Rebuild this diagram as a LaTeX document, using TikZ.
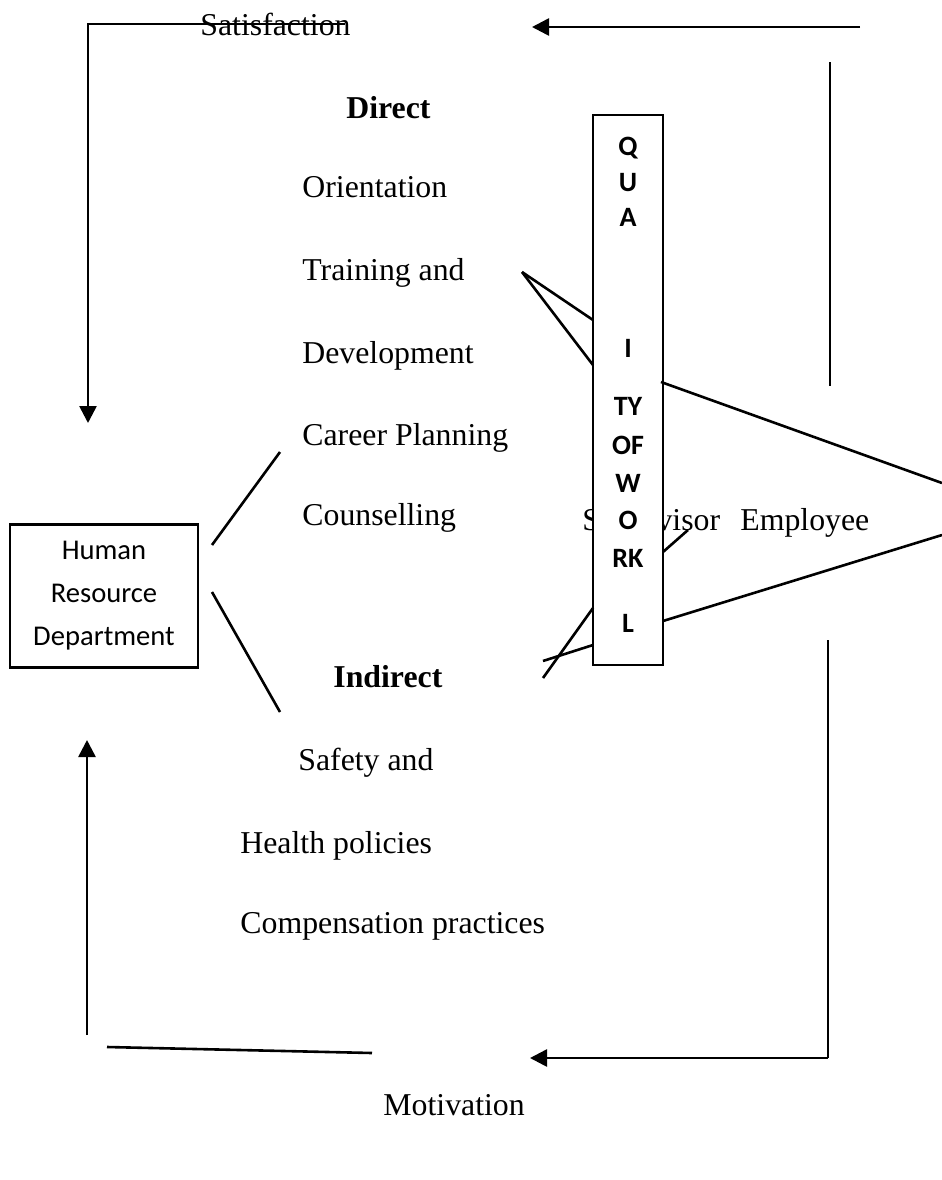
\documentclass[tikz,border=0pt]{standalone}
\usepackage{fontspec}
\setmainfont{Liberation Serif}
\newfontfamily\carlito{Carlito}
\usetikzlibrary{arrows.meta}
\tikzset{
    lbl/.style={anchor=base west, inner sep=0pt, font=\fontsize{15.9}{19}\selectfont},
    letter/.style={anchor=base, inner sep=0pt, font=\carlito\bfseries\fontsize{14}{16}\selectfont},
    flow/.style={line width=1.3pt, -{Triangle[length=8.5pt,width=8.5pt]}},
    plain/.style={line width=1.3pt}
}
\begin{document}
\begin{tikzpicture}[x=0.5pt,y=-0.5pt]
    \useasboundingbox (0,0) rectangle (942,1180);

    % text labels
    \node[lbl] (sat) at (200,35) {Satisfaction};
    \node[lbl, font=\fontsize{15.9}{19}\selectfont\bfseries] (direct) at (346,118) {Direct};
    \node[lbl] (orient) at (302,197) {Orientation};
    \node[lbl] (train) at (302,280) {Training and};
    \node[lbl] (devel) at (302,363) {Development};
    \node[lbl] (career) at (302,445) {Career Planning};
    \node[lbl] (counsel) at (302,525) {Counselling};
    \node[lbl] (superv) at (582,530) {Supervisor};
    \node[lbl] (employee) at (740,530) {Employee};
    \node[lbl, font=\fontsize{15.9}{19}\selectfont\bfseries] (indirect) at (333,687) {Indirect};
    \node[lbl] (safety) at (298,770) {Safety and};
    \node[lbl] (health) at (240,853) {Health policies};
    \node[lbl] (comp) at (240,933) {Compensation practices};
    \node[lbl] (motiv) at (383,1115) {Motivation};

    % boxes
    \node[shape=rectangle,draw=black,line width=1.3pt,minimum width=94pt,minimum height=71.5pt,align=center,
          font=\carlito\fontsize{14.3}{21.5}\selectfont] (hrd) at (104,596) {Human\\Resource\\Department};
    \node[shape=rectangle,draw=black,fill=white,line width=1.3pt,minimum width=35pt,minimum height=275pt] (qual) at (628,390) {};
    \node[letter] (q-1) at (628,155) {Q};
    \node[letter] (q-2) at (628,191) {U};
    \node[letter] (q-3) at (628,226) {A};
    \node[letter] (q-4) at (628,357) {I};
    \node[letter] (q-5) at (628,415) {TY};
    \node[letter] (q-6) at (628,454) {OF};
    \node[letter] (q-7) at (628,492) {W};
    \node[letter] (q-8) at (628,529) {O};
    \node[letter] (q-9) at (628,567) {RK};
    \node[letter] (q-10) at (628,632) {L};

    % free ends
    \coordinate (satR) at (345,24);
    \coordinate (satL) at (88,24);
    \coordinate (satD) at (88,423);
    \coordinate (topR) at (860,27);
    \coordinate (topL) at (532,27);
    \coordinate (rT1) at (830,62);
    \coordinate (rT2) at (830,386);
    \coordinate (rB1) at (828,640);
    \coordinate (rB2) at (828,1058);
    \coordinate (botL) at (530,1058);
    \coordinate (mL1) at (372,1053);
    \coordinate (mL2) at (107,1047);
    \coordinate (upB) at (87,1035);
    \coordinate (upT) at (87,740);
    \coordinate (h1a) at (212,545);
    \coordinate (h1b) at (280,452);
    \coordinate (h2a) at (212,592);
    \coordinate (h2b) at (280,712);
    \coordinate (tr) at (522,272);
    \coordinate (tr1) at (593,320);
    \coordinate (tr2) at (593,365);
    \coordinate (e1a) at (661,382);
    \coordinate (e1b) at (942,483);
    \coordinate (e2a) at (663,621);
    \coordinate (e2b) at (942,535);
    \coordinate (sv1) at (663,552);
    \coordinate (sv2) at (688,530);
    \coordinate (c1a) at (543,678);
    \coordinate (c1b) at (593,608);
    \coordinate (c2a) at (543,661);
    \coordinate (c2b) at (593,645);

    % loop arrows
    \draw[flow] (satR) -- (satL) -- (satD);
    \draw[flow] (topR) -- (topL);
    \draw[plain] (rT1) -- (rT2);
    \draw[plain] (rB1) -- (rB2);
    \draw[flow] (rB2) -- (botL);
    \draw[plain] (mL1) -- (mL2);
    \draw[flow] (upB) -- (upT);

    % links
    \path[plain]
    (h1a) edge (h1b)
    (h2a) edge (h2b)
    (tr) edge (tr1)
    (tr) edge (tr2)
    (e1a) edge (e1b)
    (e2a) edge (e2b)
    (sv1) edge (sv2)
    (c1a) edge (c1b)
    (c2a) edge (c2b)
    ;
\end{tikzpicture}
\end{document}
